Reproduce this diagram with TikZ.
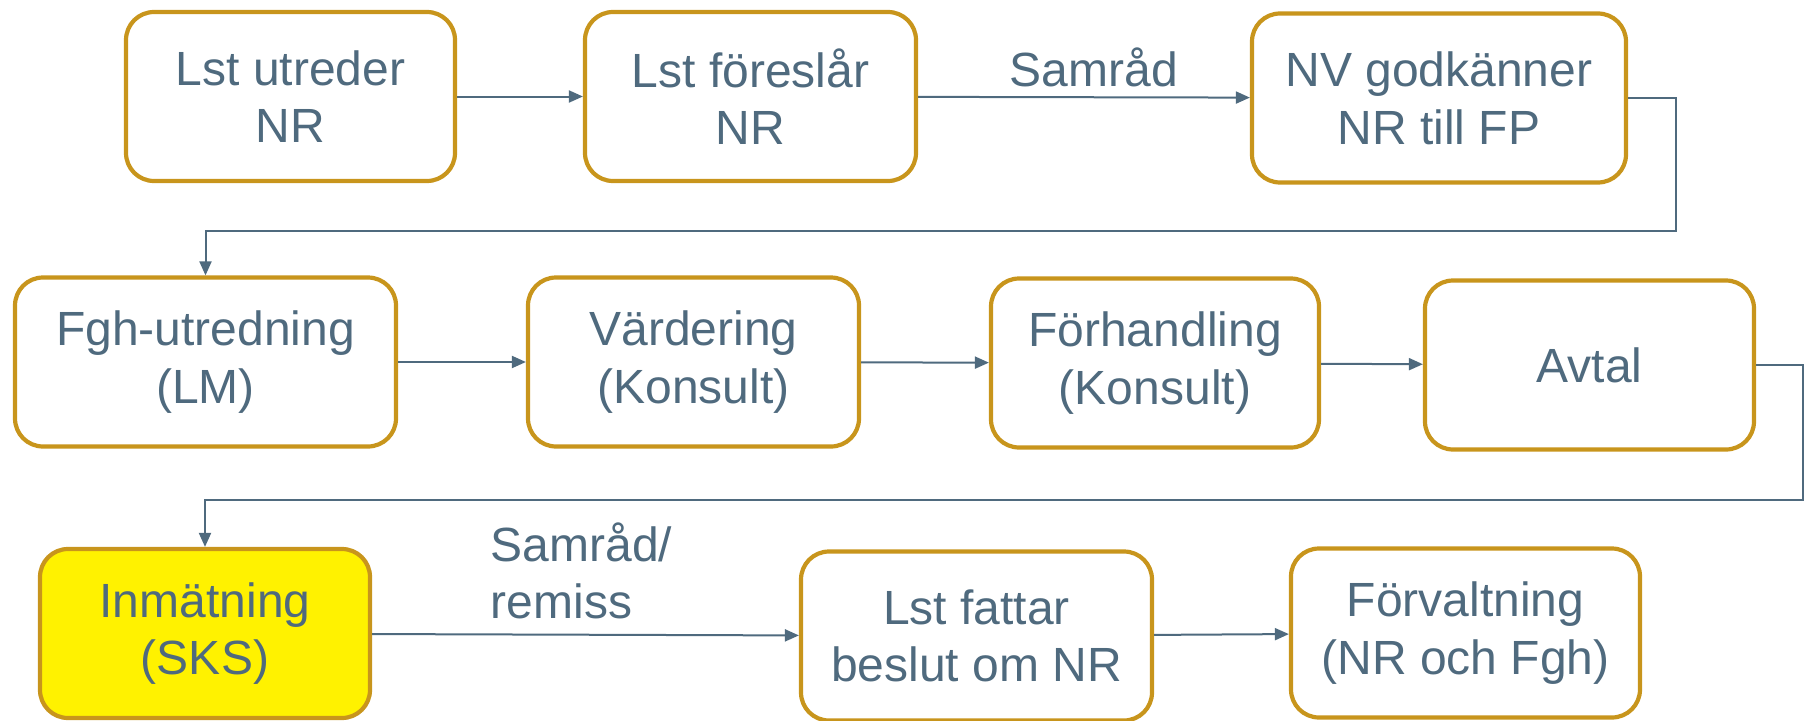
\documentclass[tikz,border=0pt]{standalone}
\usepackage{fontspec}
\setmainfont{Liberation Sans}
\usetikzlibrary{arrows.meta}
\definecolor{gold}{HTML}{C8951C}
\definecolor{slate}{HTML}{4F6A7E}
\tikzset{
    every node/.style={text=slate, align=center,
        font=\fontsize{13.66}{16.4}\selectfont},
    box/.style={draw=gold, line width=0.42mm, rounded corners=2.8mm,
        fill=white, minimum height=16.9mm, inner sep=0pt},
    flow/.style={draw=slate, line width=0.2mm,
        -{Triangle[length=1.4mm, width=1.2mm]}}
}

\begin{document}
\begin{tikzpicture}[x=0.1mm, y=-0.1mm]
  \useasboundingbox (0,0) rectangle (1810,721);
  \node (lst_utr) [box, minimum width=32.9mm] at (290.5, 96.5) {Lst utreder\\NR};
  \node (lst_for) [box, minimum width=33.1mm] at (750.5, 96.5) {Lst föreslår\\NR};
  \node (nv_godk) [box, minimum width=37.4mm] at (1439, 98) {NV godkänner\\NR till FP};
  \node (fgh) [box, minimum width=38.1mm] at (205.5, 362) {Fgh-utredning\\(LM)};
  \node (vard) [box, minimum width=33.1mm] at (693.5, 362) {Värdering\\(Konsult)};
  \node (forh) [box, minimum width=32.8mm] at (1155, 363) {Förhandling\\(Konsult)};
  \node (avtal) [box, minimum width=32.9mm] at (1589.5, 365) {Avtal};
  \node (inm) [box, fill=yellow, minimum width=33mm] at (205, 633.5) {Inmätning\\(SKS)};
  \node (beslut) [box, minimum width=35.1mm] at (976.5, 636) {Lst fattar\\beslut om NR};
  \node (forv) [box, minimum width=34.9mm] at (1465.5, 633) {Förvaltning\\(NR och Fgh)};
  \node (samrad) at (1094, 67) {Samråd};
  \node (samrad_rem) [align=left, anchor=west, inner sep=0pt] at (490, 571) {Samråd/\\remiss};
  \coordinate (turn_1) at (1676, 231);
  \coordinate (turn_2) at (1803, 500);

  \draw [flow] (lst_utr) -- (lst_for);
  \draw [flow] (lst_for) -- (nv_godk);
  \draw [flow] (nv_godk.east) -| (turn_1) -| (fgh.north);
  \draw [flow] (fgh) -- (vard);
  \draw [flow] (vard) -- (forh);
  \draw [flow] (forh) -- (avtal);
  \draw [flow] (avtal.east) -| (turn_2) -| (inm.north);
  \draw [flow] (inm) -- (beslut);
  \draw [flow] (beslut) -- (forv);
\end{tikzpicture}
\end{document}
